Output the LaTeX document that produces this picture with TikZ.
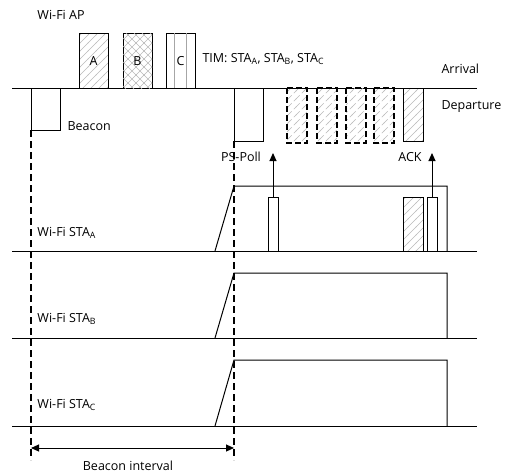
\documentclass[tikz,border=0pt]{standalone}
\usepackage{fontspec}
\setmainfont{Open Sans}
\usetikzlibrary{arrows.meta, patterns.meta}

\tikzdeclarepattern{name=widene, type=uncolored,
  bottom left={(-.5pt,-.5pt)}, top right={(8.5pt,8.5pt)}, tile size={(8pt,8pt)},
  code={\draw[line width=.5pt] (-.5pt,-.5pt) -- (8.5pt,8.5pt);}}
\tikzdeclarepattern{name=widenw, type=uncolored,
  bottom left={(-.5pt,-.5pt)}, top right={(8.5pt,8.5pt)}, tile size={(8pt,8pt)},
  code={\draw[line width=.5pt] (-.5pt,8.5pt) -- (8.5pt,-.5pt);}}

\begin{document}
\begin{tikzpicture}[x=1pt, y=-1pt, line width=1pt,
    >={Triangle[length=8pt, width=7pt]},
    every node/.style={font=\fontsize{12.5}{14}\selectfont, inner sep=1pt},
    hatch/.style={pattern=widene, pattern color=gray!55},
    cross/.style={pattern=widenw, pattern color=gray!55},
    slot/.style={line width=1.6pt, dash pattern=on 6pt off 3pt},
    guide/.style={line width=1.6pt, dash pattern=on 7pt off 4pt}]
  \useasboundingbox (0,0) rectangle (509,475);

  % time axes
  \coordinate (ap0) at (12,88);   \coordinate (ap1) at (477,88);
  \coordinate (sa0) at (12,251);  \coordinate (sa1) at (477,251);
  \coordinate (sb0) at (12,338);  \coordinate (sb1) at (477,338);
  \coordinate (sc0) at (12,426);  \coordinate (sc1) at (477,426);
  \draw (ap0) -- (ap1);
  \draw (sa0) -- (sa1);
  \draw (sb0) -- (sb1);
  \draw (sc0) -- (sc1);

  % AP side
  \draw (31,88) -- (31,130) -- (60,130) -- (60,88);
  \filldraw[fill=white, hatch] (79,33) rectangle (108,88);
  \filldraw[fill=white, hatch] (123,33) rectangle (152,88);
  \fill[cross] (123,33) rectangle (152,88);
  \draw (166,33) rectangle (195,88);
  \draw[gray!70, line width=.5pt] (174,33) -- (174,88) (186,33) -- (186,88);
  \draw (234,88) -- (234,141) -- (263,141) -- (263,88);
  \foreach \x in {287,317,346,374}
    \draw[slot, hatch] (\x,88) rectangle +(20,55);
  \draw[hatch] (403,88) rectangle (423,141);

  % stations
  \draw (215,251) -- (234,186) -- (447,186) -- (447,251);
  \draw (215,338) -- (234,273) -- (447,273) -- (447,338);
  \draw (215,426) -- (234,360) -- (447,360) -- (447,426);
  \draw[fill=white] (268,197) rectangle (278,251);
  \draw[hatch] (403,197) rectangle (423,251);
  \draw[fill=white] (427,197) rectangle (437,251);

  \coordinate (poll) at (273,197);  \coordinate (pollup) at (273,153);
  \coordinate (ack) at (432,197);   \coordinate (ackup) at (432,153);
  \draw[->] (poll) -- (pollup);
  \draw[->] (ack) -- (ackup);

  % beacon interval
  \coordinate (bi0) at (31,130);  \coordinate (bi1) at (234,141);
  \coordinate (be0) at (31,460);  \coordinate (be1) at (234,460);
  \draw[guide] (bi0) -- (be0);
  \draw[guide] (bi1) -- (be1);
  \draw[<->] (31,448) -- (234,448);

  \node[anchor=west] (apl) at (36,15) {Wi-Fi AP};
  \node (la) at (93.5,61) {A};
  \node (lb) at (137.5,61) {B};
  \node (lc) at (180.5,61) {C};
  \node[anchor=west] (tim) at (201,59) {TIM: STA\textsubscript{A}, STA\textsubscript{B}, STA\textsubscript{C}};
  \node[anchor=west] (arr) at (440,69) {Arrival};
  \node[anchor=west] (dep) at (440,107) {Departure};
  \node[anchor=west] (bcn) at (66,126) {Beacon};
  \node (psp) at (241,157) {PS-Poll};
  \node (ackl) at (410,157) {ACK};
  \node[anchor=west] (stA) at (36,233) {Wi-Fi STA\textsubscript{A}};
  \node[anchor=west] (stB) at (36,319) {Wi-Fi STA\textsubscript{B}};
  \node[anchor=west] (stC) at (36,405) {Wi-Fi STA\textsubscript{C}};
  \node (bil) at (128,466) {Beacon interval};
\end{tikzpicture}
\end{document}
